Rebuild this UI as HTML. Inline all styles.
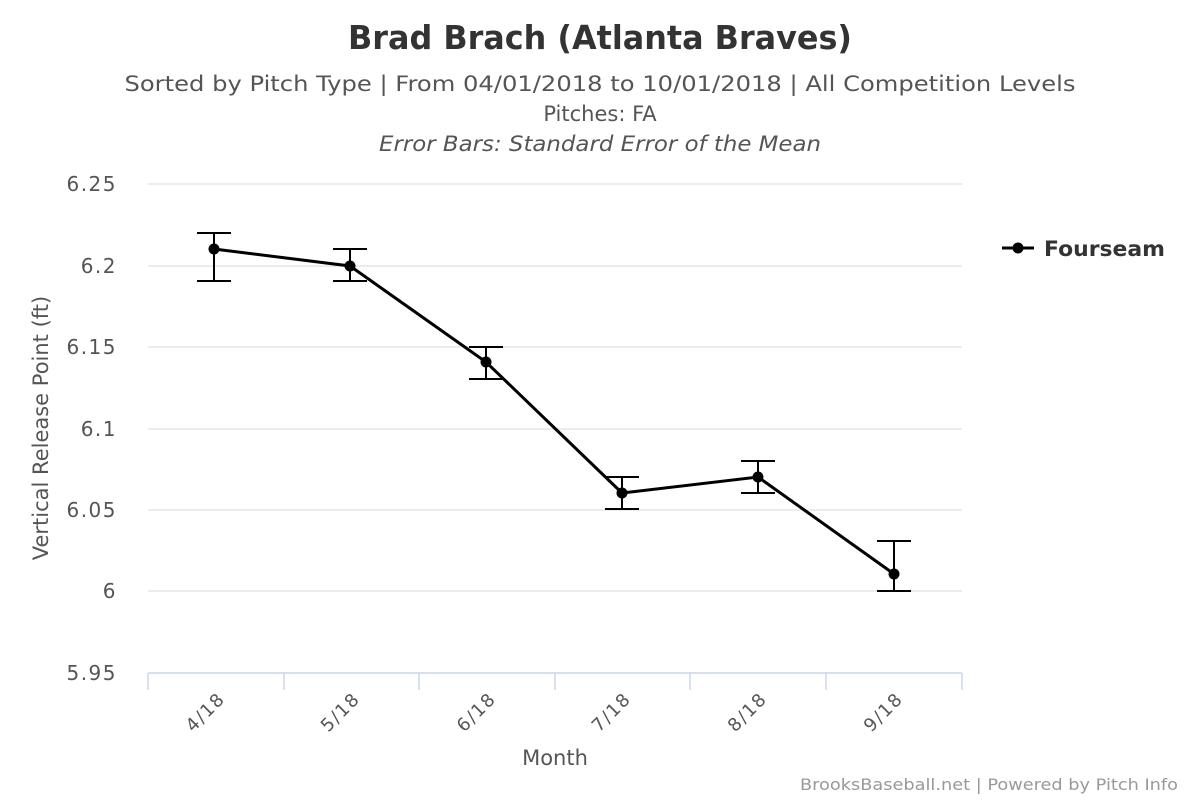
<!DOCTYPE html>
<html><head><meta charset="utf-8"><style>
body{margin:0;background:#fff;}
svg{display:block;font-family:"DejaVu Sans","Liberation Sans",sans-serif;}
</style></head><body>
<svg width="1200" height="800" viewBox="0 0 1200 800">
<text x="600" y="49" text-anchor="middle" font-size="33" font-weight="bold" fill="#333" textLength="504" lengthAdjust="spacingAndGlyphs">Brad Brach (Atlanta Braves)</text>
<text x="600" y="91" text-anchor="middle" font-size="21" fill="#555" textLength="951" lengthAdjust="spacingAndGlyphs">Sorted by Pitch Type | From 04/01/2018 to 10/01/2018 | All Competition Levels</text>
<text x="600" y="121" text-anchor="middle" font-size="21" fill="#555">Pitches: FA</text>
<text x="600" y="151" text-anchor="middle" font-size="21" font-style="italic" fill="#555" textLength="442" lengthAdjust="spacingAndGlyphs">Error Bars: Standard Error of the Mean</text>
<g stroke="#e6e6e6" stroke-width="1.5">
<line x1="148" x2="962" y1="184" y2="184"/><line x1="148" x2="962" y1="266" y2="266"/>
<line x1="148" x2="962" y1="347" y2="347"/><line x1="148" x2="962" y1="429" y2="429"/>
<line x1="148" x2="962" y1="510" y2="510"/><line x1="148" x2="962" y1="591" y2="591"/>
</g>
<g stroke="#ccd6eb" stroke-width="1.5">
<line x1="148" x2="962" y1="673" y2="673"/>
<line x1="148" x2="148" y1="673" y2="690"/><line x1="284" x2="284" y1="673" y2="690"/>
<line x1="419" x2="419" y1="673" y2="690"/><line x1="555" x2="555" y1="673" y2="690"/>
<line x1="690" x2="690" y1="673" y2="690"/><line x1="826" x2="826" y1="673" y2="690"/>
<line x1="962" x2="962" y1="673" y2="690"/>
</g>
<g font-size="20" fill="#555" text-anchor="end" letter-spacing="1.5">
<text x="117" y="191">6.25</text><text x="117" y="273">6.2</text><text x="117" y="354">6.15</text>
<text x="117" y="436">6.1</text><text x="117" y="517">6.05</text><text x="117" y="598">6</text><text x="117" y="680">5.95</text>
</g>
<g font-size="18" fill="#555" text-anchor="end" letter-spacing="1.5">
<text transform="translate(226,700) rotate(-45)">4/18</text>
<text transform="translate(361,700) rotate(-45)">5/18</text>
<text transform="translate(497,700) rotate(-45)">6/18</text>
<text transform="translate(632,700) rotate(-45)">7/18</text>
<text transform="translate(768,700) rotate(-45)">8/18</text>
<text transform="translate(904,700) rotate(-45)">9/18</text>
</g>
<text x="555" y="765" text-anchor="middle" font-size="21" fill="#555">Month</text>
<text transform="translate(48,428) rotate(-90)" text-anchor="middle" font-size="21" fill="#555">Vertical Release Point (ft)</text>
<g stroke="#000" stroke-width="2" fill="none">
<path d="M214 233V281M197 233H231M197 281H231"/>
<path d="M350 249V281M333 249H367M333 281H367"/>
<path d="M486 347V379M469 347H503M469 379H503"/>
<path d="M622 477V509M605 477H639M605 509H639"/>
<path d="M758 461V493M741 461H775M741 493H775"/>
<path d="M894 541V591M877 541H911M877 591H911"/>
</g>
<polyline points="214,249 350,266 486,362 622,493 758,477 894,574" fill="none" stroke="#000" stroke-width="3"/>
<g fill="#000">
<circle cx="214" cy="249" r="5.5"/><circle cx="350" cy="266" r="5.5"/><circle cx="486" cy="362" r="5.5"/>
<circle cx="622" cy="493" r="5.5"/><circle cx="758" cy="477" r="5.5"/><circle cx="894" cy="574" r="5.5"/>
</g>
<line x1="1002" x2="1034" y1="248" y2="248" stroke="#000" stroke-width="3"/>
<circle cx="1018" cy="248" r="5.5" fill="#000"/>
<text x="1044" y="256" font-size="21" font-weight="bold" fill="#333" textLength="121" lengthAdjust="spacingAndGlyphs">Fourseam</text>
<text x="1178" y="790" text-anchor="end" font-size="16" fill="#999" textLength="378" lengthAdjust="spacingAndGlyphs">BrooksBaseball.net | Powered by Pitch Info</text>
</svg>
</body></html>
